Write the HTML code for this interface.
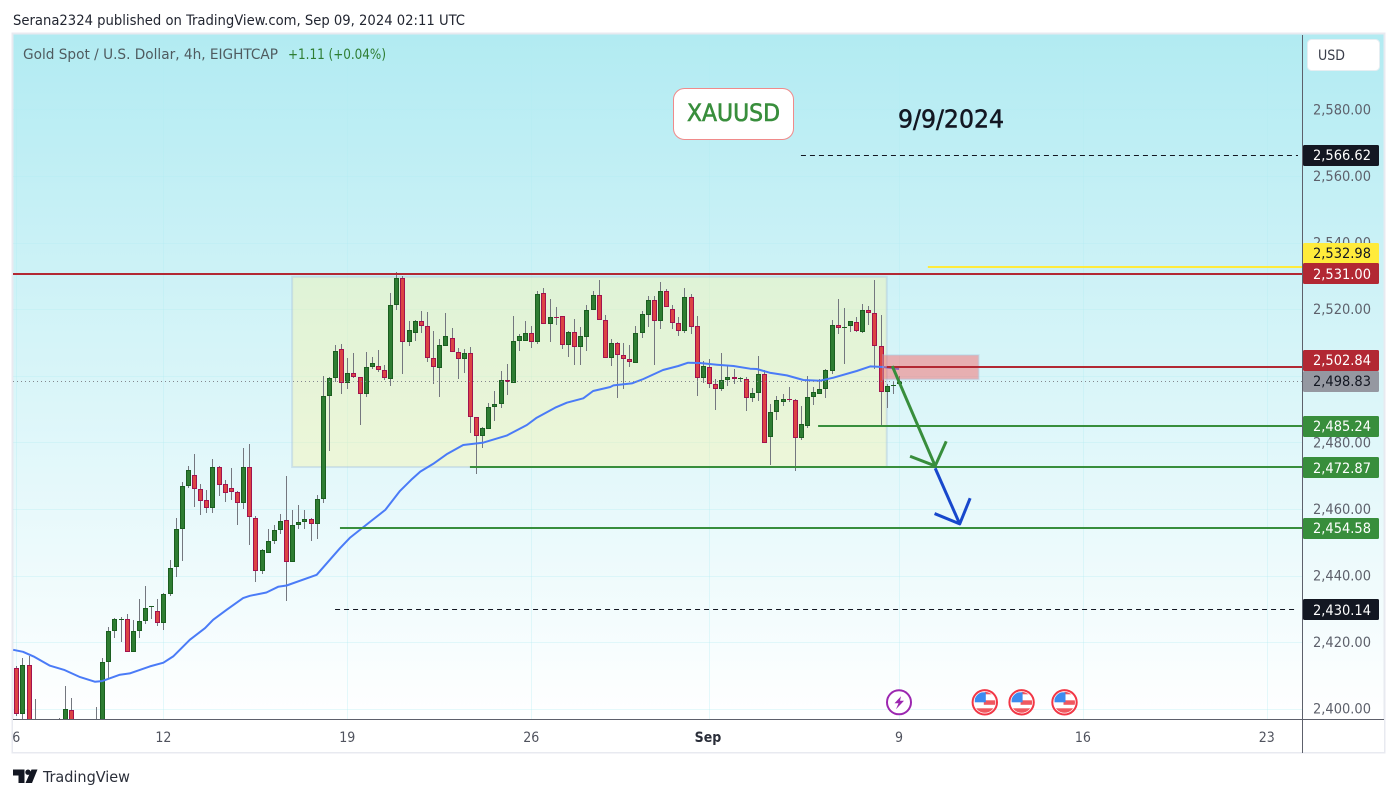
<!DOCTYPE html>
<html lang="en">
<head>
<meta charset="utf-8">
<title>Gold Spot / U.S. Dollar 4h chart</title>
<style>
html,body{margin:0;padding:0;background:#fff;width:1397px;height:798px;overflow:hidden}
svg{display:block}
text{font-family:"DejaVu Sans Condensed","DejaVu Sans","Liberation Sans",sans-serif;font-stretch:condensed}
</style>
</head>
<body>
<svg id="chart" xmlns="http://www.w3.org/2000/svg" width="1397" height="798" viewBox="0 0 1397 798">
<defs>
<linearGradient id="bg" x1="0" y1="35" x2="0" y2="719" gradientUnits="userSpaceOnUse">
<stop offset="0" stop-color="#b2ebf2"/><stop offset="1" stop-color="#ffffff"/>
</linearGradient>
<clipPath id="plot"><rect x="13" y="35" width="1290" height="684"/></clipPath>
<clipPath id="flagclip"><circle cx="0" cy="0" r="10.5"/></clipPath>
<clipPath id="timeclip"><rect x="13" y="720" width="1290" height="32"/></clipPath>
</defs>
<text x="13" y="25" font-size="14" fill="#222631" textLength="452" lengthAdjust="spacingAndGlyphs">Serana2324 published on TradingView.com, Sep 09, 2024 02:11 UTC</text>
<rect x="12.5" y="33.5" width="1372" height="719" fill="url(#bg)" stroke="#e8eaf0" stroke-width="2"/>
<rect x="13" y="719" width="1371" height="33" fill="#ffffff"/>
<g id="grid" clip-path="url(#plot)"></g>
<g id="zone" clip-path="url(#plot)"></g>
<g id="candles" clip-path="url(#plot)"></g>
<g id="ma" clip-path="url(#plot)"></g>
<g id="levels" clip-path="url(#plot)"></g>
<g id="arrows" clip-path="url(#plot)"></g>
<g id="events"></g>
<text x="23" y="59" font-size="14" fill="#4f5b5f" textLength="255" lengthAdjust="spacingAndGlyphs">Gold Spot / U.S. Dollar, 4h, EIGHTCAP</text>
<text x="288" y="59" font-size="14" fill="#2e7d32" textLength="98" lengthAdjust="spacingAndGlyphs">+1.11 (+0.04%)</text>
<rect x="673.5" y="88.5" width="120" height="51" rx="11" fill="#ffffff" stroke="#f08a8a" stroke-width="1"/>
<text x="687" y="121" font-size="24" fill="#388e3c" stroke="#388e3c" stroke-width="0.6" textLength="93" lengthAdjust="spacingAndGlyphs">XAUUSD</text>
<text x="898" y="127.5" font-size="25" fill="#131722" stroke="#131722" stroke-width="0.5" textLength="106" lengthAdjust="spacingAndGlyphs">9/9/2024</text>
<line x1="1302.5" y1="35" x2="1302.5" y2="753" stroke="#5d606b" stroke-width="1"/>
<line x1="13" y1="719.5" x2="1384" y2="719.5" stroke="#5d606b" stroke-width="1"/>
<g id="priceticks"></g>
<g id="timeticks" clip-path="url(#timeclip)"></g>
<g id="tags"></g>
<rect x="1307.5" y="39.5" width="72" height="31" rx="4" fill="#ffffff" stroke="#e6eef2" stroke-width="1"/>
<text x="1318" y="60" font-size="14" fill="#3a3e4a" textLength="27" lengthAdjust="spacingAndGlyphs">USD</text>
<g fill="#131722">
<path d="M13 769.5h11.5v13.5h-6v-7.5H13z"/>
<circle cx="28" cy="772.2" r="2.7"/>
<path d="M31.5 769.5H37.5L32 783H25.5z"/>
</g>
<text x="43" y="782" font-size="15" fill="#2a2e39" textLength="87" lengthAdjust="spacingAndGlyphs">TradingView</text>
</svg>
<script>
const opens = [
2412.5,2398.6,2413.4,2395,2391,2386,2389,2391,2394,2399.9,
2393,2390,2392,2388,2393,2414.2,2423.5,2427.1,2427.2,2417.3,
2423.6,2426.6,2430.8,2429.6,2425.9,2434.6,2442.8,2454.2,2467.1,2470.4,
2466.2,2462.9,2460.5,2472.8,2467.7,2466.5,2465.3,2462,2472.8,2457.5,
2441.6,2447,2450.6,2453.9,2456.9,2444.3,2455.4,2456.3,2457.2,2455.7,
2463.2,2494.1,2499.5,2508.2,2498,2501,2499.8,2494.7,2502.8,2503.1,
2501.9,2499.2,2521.4,2529.5,2510.3,2513,2516.6,2515.1,2505.5,2502.5,
2509.1,2511.5,2507.3,2505.2,2507,2487.8,2482.1,2484.2,2490.8,2491.7,
2498.9,2498,2510.6,2510.6,2513,2510.3,2525,2515.7,2517.9,2518.1,
2509.4,2513.3,2508.8,2511.8,2519.9,2524.4,2516.9,2505.5,2510,2506.4,
2505.2,2504,2513,2518.4,2522.9,2516.6,2525.6,2520.2,2516,2513.6,
2523.8,2515.1,2499.5,2502.8,2497.7,2496.2,2498.9,2499.8,2499.5,2499.2,
2493.5,2495,2500.7,2481.8,2489.3,2492.3,2493.2,2492.9,2481.5,2485.1,
2493.8,2494.7,2496.2,2501.6,2515.4,2514.7,2515.1,2516.3,2513.5,2519.9,
2519,2509.1,2495.3,2497.3,2497.7];
const highs = [
2413,2415.5,2416.2,2403.2,2394,2392,2394,2397.5,2407.2,2403.6,
2396,2395,2396,2400.9,2415.5,2424.8,2427.6,2427.8,2428.8,2426.9,
2433.3,2437.2,2431.2,2433.3,2435,2445,2457.6,2468.3,2473.2,2476.8,
2467.8,2466,2475.3,2473.2,2468.9,2472.6,2465.7,2478.6,2479.8,2458.1,
2448.2,2454.3,2455.5,2458.8,2470.2,2460,2461.5,2460,2457.5,2464.4,
2500.2,2499.8,2509.5,2509.8,2505.6,2507.1,2499.8,2507.4,2505.8,2508,
2503.5,2525.1,2531.4,2530.2,2516.7,2517,2519.7,2519.4,2513.7,2511.3,
2519.1,2514.6,2508.5,2508.2,2508.8,2487.8,2484.9,2492,2495.7,2501.7,
2503.8,2518.2,2512.7,2516.7,2515.2,2525.7,2526.6,2523.3,2520.9,2518.1,
2513.7,2517.3,2514.9,2521.4,2525.6,2529,2518.4,2511.2,2510.3,2510,
2509.5,2515.2,2519.7,2524.1,2524.1,2528.4,2526.3,2521.4,2517.9,2526.6,
2524.8,2518.2,2504.7,2505.2,2499.3,2507.1,2503.1,2502.3,2499.9,2499.9,
2496.5,2506.2,2501.9,2491.8,2494.2,2494.8,2496.9,2493.2,2491.2,2500.1,
2496.9,2499.2,2502.3,2517,2523.3,2520.6,2516.6,2517.9,2521.7,2521.1,
2529,2518.5,2497.7,2498.6,2500.2];
const lows = [
2398.2,2393,2392,2388,2384,2382,2385,2388,2391,2390,
2387,2385,2386,2385,2390,2409.2,2421.6,2420.2,2417.3,2417.3,
2421.4,2425.6,2427.3,2425,2424,2434,2439.7,2444.8,2466.7,2461,
2458.6,2459.2,2459.2,2464.3,2462.5,2463,2455.6,2460.4,2449.6,2438.2,
2440.9,2447,2449.9,2452.9,2432.5,2444.3,2454.3,2454.4,2450.8,2451.4,
2462,2477.8,2498.5,2494.8,2496.4,2499.7,2485.5,2494,2502.3,2501.5,
2498.9,2497.3,2520,2500.9,2509.2,2510.7,2513.1,2504.5,2497.8,2494,
2509.1,2507.3,2499.3,2501.2,2483.1,2470.8,2478.7,2484.2,2486.7,2490.7,
2494.5,2498,2507.7,2510.6,2508.6,2509.9,2515.7,2510.5,2515.5,2508.4,
2505.9,2503.5,2503.5,2507.7,2519.9,2516.9,2505.5,2503.2,2493.7,2496.4,
2503,2504,2511.6,2515,2503.6,2514.3,2520.8,2514.3,2512.2,2513.2,
2512.8,2494.3,2498,2496.5,2490.1,2495.7,2497.2,2497.8,2498.5,2489.7,
2492.3,2492.7,2480,2473.5,2487,2491.1,2492.4,2471.8,2481.1,2484.7,
2491.5,2494.7,2493.7,2500.9,2512.7,2503.8,2513.4,2513.4,2513.2,2515.5,
2502.4,2485.2,2490.7,2494.9,2497.7];
const closes = [
2398.6,2413.4,2395,2392,2386,2389,2391,2394,2400.2,2393,
2390,2392,2388,2393,2414.3,2423.6,2427.2,2427.3,2417.3,2423.6,
2426.6,2430.5,2431,2426,2434.7,2442.5,2454.2,2467.1,2471.9,2466.2,
2462.6,2460.5,2472.8,2467.4,2465,2465.3,2462,2472.8,2457.8,2441.6,
2447.9,2450.6,2453.9,2456.6,2444.3,2455.4,2456.3,2457.2,2455.7,2463.2,
2494.1,2499.5,2507.6,2498,2501,2499.8,2494.7,2502.8,2504,2501.9,
2499.5,2521.4,2529.5,2510.3,2513.9,2516.6,2515.1,2505.5,2502.8,2509.4,
2512.1,2507.3,2505.2,2507,2487.8,2482.1,2484.5,2490.8,2491.7,2498.9,
2498.3,2510.6,2512.1,2513,2510.3,2524.7,2515.7,2517.8,2517.7,2509.4,
2513.3,2508.8,2512.1,2519.9,2524.4,2516.9,2505.5,2510,2506.4,2505.2,
2504.3,2513,2518.7,2522.9,2516.6,2525.6,2520.8,2516,2513.6,2523.8,
2514.8,2499.5,2503.1,2497.7,2496.2,2498.9,2499.8,2499.2,2499.6,2493.5,
2495,2500.7,2480,2489.3,2492.9,2493.2,2492.9,2481.5,2485.7,2493.8,
2495.3,2496.2,2501.9,2515.4,2514.5,2514.9,2516.6,2513.6,2519.9,2519,
2509.1,2495.3,2497.1,2497.5,2498.6];

const maBars = [-0.5,1.1,2.8,5.5,7.9,10.4,12.8,14,16.9,18.5,21.8,24,25.6,28.3,30.8,32.1,34.3,37,38.1,40.8,42.7,44.1,49,52.8,54.4,57.7,60.2,62.6,64.4,65.9,68,70.2,72.9,76.2,80,83.3,84.9,87.9,89.8,92.5,94.1,96.9,97.4,100.4,102.3,105.5,108,109.6,111.5,114.3,117,119.7,120.8,122.9,125.7,128.4,131.1,133.3,137.1,139.3,141.4,144];
const maValues = [2418,2417.4,2416,2413.2,2411.9,2409.8,2408.4,2408.6,2410.5,2410.9,2413,2414.1,2416,2421,2424.5,2427,2430,2433.5,2434.2,2435.2,2436.9,2437.3,2440.5,2448.5,2451.6,2456.4,2460,2465.7,2469,2471.5,2473.8,2476.7,2479.5,2480.2,2482.3,2485.5,2487.7,2490.7,2492.2,2493.5,2495.7,2496.9,2497.4,2498,2499.3,2502,2503.2,2504.2,2504.1,2503.6,2503.2,2502.4,2502.3,2501.2,2500.4,2499,2498.8,2499.7,2501.7,2503.1,2502.9,2502.3];

const priceTickValues = [2400,2420,2440,2460,2480,2500,2520,2540,2560,2580];
const priceTickLabels = ["2,400.00","2,420.00","2,440.00","2,460.00","2,480.00","2,500.00","2,520.00","2,540.00","2,560.00","2,580.00"];
const timeTickBars = [0,24,54,84,113,144,174,204];
const timeTickLabels = ["6","12","19","26","Sep","9","16","23"];

const levelNames = ["resistance-high","yellow-target","range-top","pivot","green-485","range-bottom","green-454","support-low"];
const levelValues = [2566.62,2532.98,2531,2502.84,2485.24,2472.87,2454.58,2430.14];
const levelStartBars = [128,148.7,-1,142,130.8,74,52.8,52];
const lastPrice = 2498.83;
const lastPriceLabel = "2,498.83";
const levelLabels = ["2,566.62","2,532.98","2,531.00","2,502.84","2,485.24","2,472.87","2,454.58","2,430.14"];

const zoneBars = [45,142];
const zonePrices = [2530,2472.87];
const sellZoneBars = [141.4,157];
const sellZonePrices = [2506.5,2499.2];

const greenArrowBars = [142.9,149.9];
const greenArrowPrices = [2503.2,2473.2];
const greenHeadBars = [145.8,149.9,151.7];
const greenHeadPrices = [2476.1,2473.2,2480.6];
const blueArrowBars = [149.9,153.9];
const blueArrowPrices = [2472.5,2455.8];
const blueHeadBars = [149.8,153.9,155.6];
const blueHeadPrices = [2458.9,2455.8,2463.5];

const eventBars = [144,158,164,171];
const eventTypes = ["split","us","us","us"];

const NS = "http://www.w3.org/2000/svg";
function xAt(bar){ return 16.3 + 6.13 * bar; }
function yAt(price){ return 709.7 - (price - 2400) * 3.33; }
function mk(parent, tag, attrs, text){
  const el = document.createElementNS(NS, tag);
  for (const k in attrs) el.setAttribute(k, attrs[k]);
  if (text !== undefined) el.textContent = text;
  parent.appendChild(el);
  return el;
}
const $ = id => document.getElementById(id);

/* grid */
priceTickValues.forEach(function(p){
  const ln = mk($("grid"), "rect", {x:13, y:Math.round(yAt(p))-1, width:1290, height:1, fill:"rgba(178,235,242,0.32)"});
  
  
});
timeTickBars.forEach(function(b){
  const ln = mk($("grid"), "rect", {x:Math.round(xAt(b)), y:35, width:1, height:684, fill:"rgba(178,235,242,0.32)"});
  
  
});

/* range zone */
const zoneRect = mk($("zone"), "rect", {
  x:xAt(zoneBars[0]), y:yAt(zonePrices[0]),
  width:xAt(zoneBars[1])-xAt(zoneBars[0]), height:yAt(zonePrices[1])-yAt(zonePrices[0]),
  fill:"rgba(255,245,157,0.36)", stroke:"rgba(170,200,225,0.45)", "stroke-width":2
});



/* candles */
closes.forEach(function(c, i){
  const o = opens[i], up = c >= o, rx = Math.round(xAt(i));
  const top = Math.round(yAt(Math.max(o, c))), bot = Math.round(yAt(Math.min(o, c)));
  const h = Math.max(bot - top, 1);
  const g = mk($("candles"), "g", {});
  
  
  mk(g, "rect", {x:rx, y:Math.round(yAt(highs[i])), width:1, height:Math.max(1, Math.round(yAt(lows[i]))-Math.round(yAt(highs[i]))), fill:"#74777f"});
  mk(g, "rect", {x:rx-2, y:top, width:5, height:h, fill:up ? "#1b5e20" : "#a3124f"});
  if (h > 2) mk(g, "rect", {x:rx-1, y:top+1, width:3, height:h-2, fill:up ? "#2e7d32" : "#dc4444"});
});

/* moving average */
const maLine = mk($("ma"), "polyline", {
  points: maBars.map(function(b, i){ return xAt(b).toFixed(1) + "," + yAt(maValues[i]).toFixed(1); }).join(" "),
  fill:"none", stroke:"#4a7bf7", "stroke-width":2, "stroke-linejoin":"round"
});



/* sell zone */
const sellZone = mk($("levels"), "rect", {
  x:xAt(sellZoneBars[0]), y:yAt(sellZonePrices[0]),
  width:xAt(sellZoneBars[1])-xAt(sellZoneBars[0]), height:yAt(sellZonePrices[1])-yAt(sellZonePrices[0]),
  fill:"rgba(255,70,70,0.4)", stroke:"rgba(170,200,225,0.35)", "stroke-width":2
});



/* last price dotted line */
const lastLine = mk($("levels"), "line", {
  x1:13, x2:1303, y1:Math.round(yAt(lastPrice))+0.5, y2:Math.round(yAt(lastPrice))+0.5,
  stroke:"#84878f", "stroke-width":1, "stroke-dasharray":"1 3"
});



/* levels */
const levelStroke = {
  "resistance-high":["#131722",1,"5 4"], "yellow-target":["#ffeb3b",2,""], "range-top":["#b22833",2,""],
  "pivot":["#b22833",2,""], "green-485":["#388e3c",2,""], "range-bottom":["#388e3c",2,""],
  "green-454":["#388e3c",2,""], "support-low":["#131722",1,"5 4"]
};
levelValues.forEach(function(p, i){
  const st = levelStroke[levelNames[i]];
  const yy = st[1] === 1 ? Math.round(yAt(p)) + 0.5 : Math.round(yAt(p) + 0.25);
  const ln = mk($("levels"), "line", {
    x1:xAt(levelStartBars[i]), x2: st[1] === 1 ? 1298 : 1303, y1:yy, y2:yy,
    stroke:st[0], "stroke-width":st[1], "stroke-dasharray":st[2] || "none"
  });
  
  
});

/* arrows */
function arrow(bars, prices, hb, hp, color, nm){
  const g = mk($("arrows"), "g", {fill:"none", stroke:color, "stroke-width":3, "stroke-linejoin":"round", "stroke-linecap":"butt"});
  
  
  mk(g, "polyline", {points:bars.map(function(b, i){ return xAt(b) + "," + yAt(prices[i]); }).join(" ")});
  mk(g, "polyline", {points:hb.map(function(b, i){ return xAt(b) + "," + yAt(hp[i]); }).join(" ")});
}
arrow(greenArrowBars, greenArrowPrices, greenHeadBars, greenHeadPrices, "#388e3c", "green-forecast-arrow");
arrow(blueArrowBars, blueArrowPrices, blueHeadBars, blueHeadPrices, "#1848cc", "blue-forecast-arrow");

/* event icons */
eventBars.forEach(function(b, i){
  const g = mk($("events"), "g", {transform:"translate(" + xAt(b).toFixed(1) + ",702.3)"});
  
  if (eventTypes[i] === "split") {
    
    mk(g, "circle", {r:12, fill:"#ffffff", stroke:"#9c27b0", "stroke-width":2});
    mk(g, "polygon", {points:"2,-6 -4.5,1 -0.5,1 -3,7 5,-1.5 1,-1.5", fill:"#9c27b0"});
  } else {
    
    mk(g, "circle", {r:12.2, fill:"#ffffff", stroke:"#f23645", "stroke-width":2});
    const c = mk(g, "g", {"clip-path":"url(#flagclip)"});
    mk(c, "rect", {x:-10.5, y:-12, width:21, height:24, fill:"#ffffff"});
    mk(c, "rect", {x:0, y:-11, width:11, height:3, fill:"#f0575f"});
    mk(c, "rect", {x:-1, y:-2, width:12, height:4.5, fill:"#f0575f"});
    mk(c, "rect", {x:-11, y:6, width:22, height:5, fill:"#f0575f"});
    mk(c, "rect", {x:-10, y:-10, width:11, height:10, fill:"#3d8bef"});
  }
});

/* price ticks */
priceTickValues.forEach(function(p, i){
  const t = mk($("priceticks"), "text", {x:1313, y:(yAt(p)+4).toFixed(1), "font-size":14, fill:"#5d606b", textLength:58, lengthAdjust:"spacingAndGlyphs"}, priceTickLabels[i]);
  
  
});

/* time ticks */
timeTickBars.forEach(function(b, i){
  const bold = timeTickLabels[i] === "Sep";
  const t = mk($("timeticks"), "text", {x:xAt(b) - (bold ? 1 : 0), y:742, "font-size":14, "text-anchor":"middle", fill: bold ? "#2a2e39" : "#50535e", "font-weight": bold ? 700 : 400}, timeTickLabels[i]);
  
  
});

/* price tags */
const tagStyles = {
  "resistance-high":["#131722","#ffffff"], "yellow-target":["#ffeb3b","#131722"], "range-top":["#b22833","#ffffff"],
  "pivot":["#b22833","#ffffff"], "green-485":["#388e3c","#ffffff"], "range-bottom":["#388e3c","#ffffff"],
  "green-454":["#388e3c","#ffffff"], "support-low":["#131722","#ffffff"]
};
function drawTag(cy, bg, fg, label, nm){
  const g = mk($("tags"), "g", {});
  
  
  mk(g, "rect", {x:1303, y:Math.round(cy-10.5), width:76, height:21, rx:1.5, fill:bg});
  mk(g, "text", {x:1313, y:Math.round(cy)+5, "font-size":14, fill:fg, textLength:58, lengthAdjust:"spacingAndGlyphs"}, label);
}
const lastCy = yAt(lastPrice) + 0.5;
levelValues.forEach(function(p, i){
  const st = tagStyles[levelNames[i]];
  let cy = yAt(p) + 0.5;
  if (levelNames[i] === "yellow-target") cy = yAt(levelValues[2]) + 0.5 - 20.7;
  if (levelNames[i] === "pivot") cy = lastCy - 20.7;
  drawTag(cy, st[0], st[1], levelLabels[i], 'price-tag-' + levelNames[i]);
});
drawTag(lastCy, "#9598a1", "#131722", lastPriceLabel, 'price-tag-last');
</script>
</body>
</html>
